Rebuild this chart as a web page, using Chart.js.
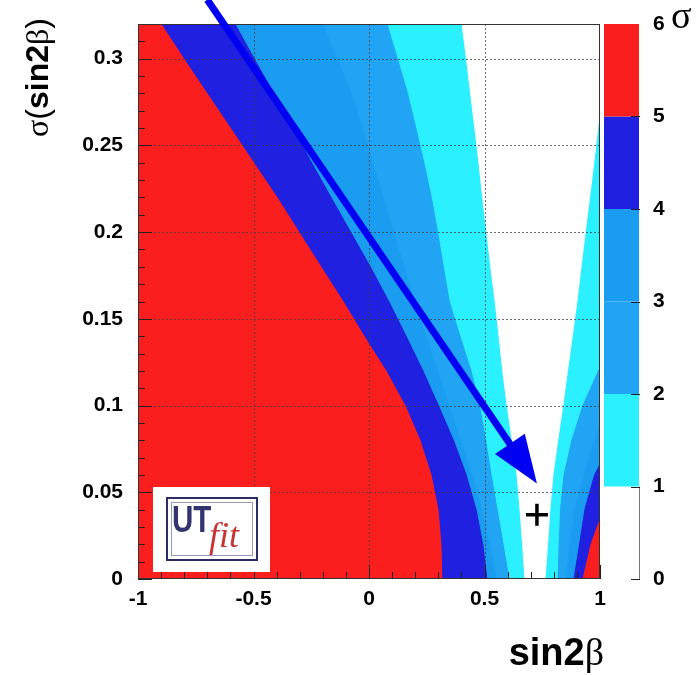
<!DOCTYPE html>
<html>
<head>
<meta charset="utf-8">
<script src="https://cdn.jsdelivr.net/npm/chart.js@4.4.1/dist/chart.umd.min.js"></script>
<style>
  html, body { margin: 0; padding: 0; background: #fff; }
  #wrap { width: 696px; height: 675px; }
</style>
</head>
<body>
<div id="wrap"><canvas id="chart"></canvas></div>
<script>
// sigma(sin2b) rows of the scan, top to bottom
const rows = [0.32, 0.30, 0.28, 0.26, 0.24, 0.22, 0.20, 0.18, 0.16, 0.14, 0.12, 0.10, 0.08, 0.06, 0.04, 0.02, 0];

// left / right sin2b edge of the region below n sigma, one value per row
const left1  = [0.403, 0.422, 0.440, 0.458, 0.476, 0.492, 0.510, 0.527, 0.546, 0.563, 0.579, 0.598, 0.620, 0.641, 0.654, 0.665, 0.675];
const right1 = [1.037, 1.021, 1.006, 0.990, 0.973, 0.955, 0.936, 0.918, 0.900, 0.880, 0.859, 0.839, 0.817, 0.796, 0.783, 0.773, 0.762];
const left2  = [0.082, 0.127, 0.171, 0.207, 0.242, 0.274, 0.301, 0.326, 0.352, 0.398, 0.446, 0.483, 0.509, 0.533, 0.559, 0.585, 0.610];
const right2 = [1.2, 1.2, 1.2, 1.2, 1.2, 1.2, 1.2, 1.2, 1.12, 1.055, 0.989, 0.922, 0.874, 0.840, 0.825, 0.819, 0.814];
const left3  = [-0.199, -0.136, -0.073, -0.025, 0.020, 0.065, 0.110, 0.155, 0.201, 0.250, 0.300, 0.349, 0.400, 0.450, 0.490, 0.525, 0.555];
const right3 = [1.2, 1.2, 1.2, 1.2, 1.2, 1.2, 1.2, 1.2, 1.2, 1.2, 1.2, 1.03, 0.973, 0.926, 0.887, 0.868, 0.848];
const left4  = [-0.576, -0.493, -0.408, -0.325, -0.244, -0.160, -0.075, 0.010, 0.090, 0.165, 0.238, 0.305, 0.370, 0.425, 0.468, 0.497, 0.515];
const right4 = [1.2, 1.2, 1.2, 1.2, 1.2, 1.2, 1.2, 1.2, 1.2, 1.2, 1.2, 1.2, 1.05, 0.972, 0.930, 0.907, 0.883];
const left5  = [-0.896, -0.798, -0.697, -0.596, -0.495, -0.394, -0.299, -0.204, -0.108, -0.017, 0.078, 0.160, 0.225, 0.273, 0.303, 0.316, 0.320];
const right5 = [1.2, 1.2, 1.2, 1.2, 1.2, 1.2, 1.2, 1.2, 1.2, 1.2, 1.2, 1.2, 1.2, 1.2, 1.01, 0.957, 0.922];

const xTicks = [-1, -0.5, 0, 0.5, 1];
const yTicks = [0, 0.05, 0.1, 0.15, 0.2, 0.25, 0.3];
const sigmaTicks = [0, 1, 2, 3, 4, 5, 6];
// colour of each 1-sigma band, 0-1 up to 5-6
const levelColors = ['#ffffff', '#2af0ff', '#20a4f3', '#1a9cf0', '#2020e0', '#fa1e1e'];

const bestFit = [{x: 0.727, y: 0.037}];
const arrowFrom = {x: -0.70, y: 0.334};
const arrowTo = {x: 0.727, y: 0.055};

function band(left, right) {
  const pts = rows.map((y, i) => ({x: left[i], y: y}));
  for (let i = rows.length - 1; i >= 0; i--) pts.push({x: right[i], y: rows[i]});
  return pts;
}

const bands = [
  band(left1, right1),
  band(left2, right2),
  band(left3, right3),
  band(left4, right4),
  band(left5, right5)
];

const datasets = bands.map((pts, i) => ({
  type: 'line',
  label: '< ' + (i + 1) + ' sigma',
  data: pts,
  backgroundColor: levelColors[i],
  borderColor: levelColors[i],
  borderWidth: 1,
  pointRadius: 0,
  tension: 0,
  fill: 'shape',
  order: i + 1
}));

datasets.push({
  type: 'scatter',
  label: 'best fit',
  data: bestFit,
  pointStyle: 'cross',
  pointRadius: 11,
  borderColor: '#000',
  borderWidth: 3.5,
  order: 0
});

function drawParts(ctx, parts, x, y) {
  parts.forEach(p => {
    ctx.font = p.font;
    ctx.fillText(p.text, x, y);
    x += ctx.measureText(p.text).width;
  });
}
function partsWidth(ctx, parts) {
  let w = 0;
  parts.forEach(p => { ctx.font = p.font; w += ctx.measureText(p.text).width; });
  return w;
}

// red background = 5-6 sigma region
const areaFill = {
  id: 'areaFill',
  beforeDatasetsDraw(chart) {
    const {ctx, chartArea: a} = chart;
    ctx.save();
    ctx.fillStyle = levelColors[5];
    ctx.fillRect(a.left, a.top, a.width, a.height);
    ctx.restore();
  }
};

const decor = {
  id: 'decor',
  afterDatasetsDraw(chart) {
    const {ctx, chartArea: a, scales} = chart;
    const xs = scales.x, ys = scales.y, ss = scales.sigma;
    const seg = (x0, y0, x1, y1) => { ctx.beginPath(); ctx.moveTo(x0, y0); ctx.lineTo(x1, y1); ctx.stroke(); };
    ctx.save();

    // dotted grid
    ctx.strokeStyle = 'rgba(60,60,60,0.75)';
    ctx.lineWidth = 1;
    ctx.setLineDash([2, 2]);
    xTicks.slice(1, -1).forEach(v => {
      const px = Math.round(xs.getPixelForValue(v)) + 0.5;
      seg(px, a.top, px, a.bottom);
    });
    yTicks.slice(1).forEach(v => {
      const py = Math.round(ys.getPixelForValue(v)) + 0.5;
      seg(a.left, py, a.right, py);
    });
    ctx.setLineDash([]);

    // axis ticks
    ctx.strokeStyle = '#222';
    for (let i = 0; i <= 20; i++) {
      const px = Math.round(xs.getPixelForValue(-1 + i * 0.1)) + 0.5;
      seg(px, a.bottom, px, a.bottom - (i % 5 === 0 ? 14 : 7));
    }
    for (let i = 0; i <= 32; i++) {
      const py = Math.round(ys.getPixelForValue(i * 0.01)) + 0.5;
      seg(a.left, py, a.left + (i % 5 === 0 ? 14 : 7), py);
    }

    // frame
    ctx.strokeStyle = '#333';
    ctx.strokeRect(a.left + 0.5, a.top + 0.5, a.width - 1, a.height - 1);

    // colour bar
    const cx = a.right + 4, cw = 35;
    levelColors.forEach((c, i) => {
      const t = ss.getPixelForValue(sigmaTicks[i + 1]);
      const b = ss.getPixelForValue(sigmaTicks[i]);
      ctx.fillStyle = c;
      ctx.fillRect(cx, t, cw, b - t);
    });
    ctx.strokeStyle = '#777';
    seg(cx + cw + 0.5, ss.getPixelForValue(1), cx + cw + 0.5, ss.getPixelForValue(0));
    ctx.strokeStyle = '#222';
    sigmaTicks.forEach(v => {
      const py = Math.round(ss.getPixelForValue(v)) + 0.5;
      if (v < 6) seg(cx + cw - 8, py, cx + cw + 1, py);
    });

    // arrow
    const x0 = xs.getPixelForValue(arrowFrom.x), y0 = ys.getPixelForValue(arrowFrom.y);
    const x1 = xs.getPixelForValue(arrowTo.x), y1 = ys.getPixelForValue(arrowTo.y);
    const len = Math.hypot(x1 - x0, y1 - y0);
    const ux = (x1 - x0) / len, uy = (y1 - y0) / len;
    const headLen = 48, headHalf = 18;
    const bx = x1 - ux * headLen, by = y1 - uy * headLen;
    ctx.strokeStyle = '#0000f2';
    ctx.fillStyle = '#0000f2';
    ctx.lineWidth = 7;
    seg(x0, y0, bx + ux * 4, by + uy * 4);
    ctx.beginPath();
    ctx.moveTo(x1, y1);
    ctx.lineTo(bx - uy * headHalf, by + ux * headHalf);
    ctx.lineTo(bx + uy * headHalf, by - ux * headHalf);
    ctx.closePath();
    ctx.fill();

    // UTfit logo box
    const lx = a.left + 15, ly = a.bottom - 92;
    ctx.fillStyle = '#fff';
    ctx.fillRect(lx, ly, 117, 85);
    ctx.lineWidth = 2;
    ctx.strokeStyle = '#2d2d66';
    ctx.strokeRect(lx + 14, ly + 11, 90, 62);
    ctx.lineWidth = 1;
    ctx.strokeStyle = '#9a9ab8';
    ctx.strokeRect(lx + 18.5, ly + 15.5, 81, 53);
    ctx.save();
    ctx.translate(lx + 19, ly + 45);
    ctx.scale(0.82, 1);
    ctx.font = 'bold 36px "Liberation Sans"';
    ctx.fillStyle = '#33336e';
    ctx.fillText('UT', 0, 0);
    ctx.restore();
    ctx.font = 'italic 36px "Liberation Serif"';
    ctx.fillStyle = '#c83434';
    ctx.fillText('fit', lx + 56, ly + 60);

    ctx.restore();
  },
  afterDraw(chart) {
    const {ctx, chartArea: a} = chart;
    ctx.save();
    ctx.fillStyle = '#000';
    ctx.textBaseline = 'alphabetic';

    // x title, right aligned under the frame
    const xt = [
      {text: 'sin2', font: 'bold 38px "Liberation Sans"'},
      {text: 'β', font: '38px "Liberation Serif"'}
    ];
    drawParts(ctx, xt, a.right + 4 - partsWidth(ctx, xt), 665);

    // y title, rotated, top aligned
    const yt = [
      {text: 'σ', font: '32px "Liberation Serif"'},
      {text: '(', font: '32px "Liberation Sans"'},
      {text: 'sin2', font: 'bold 32px "Liberation Sans"'},
      {text: 'β', font: '32px "Liberation Serif"'},
      {text: ')', font: '32px "Liberation Sans"'}
    ];
    ctx.translate(48, 18 + partsWidth(ctx, yt));
    ctx.rotate(-Math.PI / 2);
    drawParts(ctx, yt, 0, 0);
    ctx.setTransform(1, 0, 0, 1, 0, 0);

    // colour bar unit
    ctx.font = '38px "Liberation Serif"';
    ctx.fillText('σ', 671, 28);
    ctx.restore();
  }
};

const tickFont = {family: 'Liberation Sans', weight: 'bold', size: 21};

new Chart(document.getElementById('chart'), {
  type: 'line',
  data: {datasets: datasets},
  options: {
    responsive: true,
    maintainAspectRatio: false,
    animation: false,
    events: [],
    layout: {padding: {left: 0, right: 0, top: 24, bottom: 0}},
    plugins: {legend: {display: false}, tooltip: {enabled: false}},
    scales: {
      x: {
        type: 'linear',
        min: -1,
        max: 1,
        grid: {display: false},
        border: {display: false},
        afterBuildTicks: s => { s.ticks = xTicks.map(v => ({value: v})); },
        afterFit: s => { s.height = 96; },
        ticks: {color: '#000', font: tickFont, padding: 0, maxRotation: 0, callback: v => String(v)}
      },
      y: {
        type: 'linear',
        min: 0,
        max: 0.32,
        grid: {display: false},
        border: {display: false},
        afterBuildTicks: s => { s.ticks = yTicks.map(v => ({value: v})); },
        afterFit: s => { s.width = 138; s.paddingTop = 12; s.paddingBottom = 12; },
        ticks: {color: '#000', font: tickFont, padding: 7, callback: v => String(v)}
      },
      sigma: {
        type: 'linear',
        position: 'right',
        min: 0,
        max: 6,
        grid: {display: false},
        border: {display: false},
        afterBuildTicks: s => { s.ticks = sigmaTicks.map(v => ({value: v})); },
        afterFit: s => { s.width = 96; s.paddingTop = 12; s.paddingBottom = 12; },
        ticks: {color: '#000', font: tickFont, padding: 45, callback: v => String(v)}
      }
    }
  },
  plugins: [areaFill, decor]
});
</script>
</body>
</html>
